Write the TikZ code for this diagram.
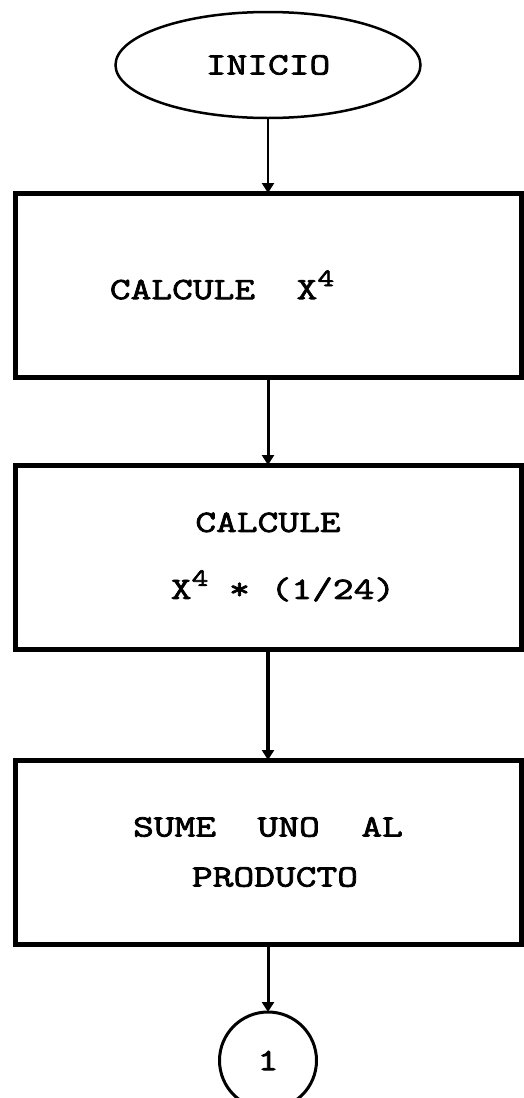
\documentclass[tikz,border=0pt]{standalone}
\usepackage{fontspec}
\setmonofont{Latin Modern Mono}[FakeStretch=1.3, FakeBold=2.5]
\usepackage{tikz}
\usetikzlibrary{shapes.geometric, arrows.meta, positioning}
\newcommand{\xcuarta}{X\raisebox{13pt}{\fontsize{25}{25}\selectfont 4}}

\begin{document}
\begin{tikzpicture}[
    x=1pt, y=1pt,
    every node/.style={font=\ttfamily\fontsize{31}{50}\selectfont, outer sep=0pt},
    terminal/.style={ellipse, draw, line width=2.5pt, minimum width=305pt, minimum height=106pt},
    block/.style={rectangle, draw, line width=5pt, minimum width=506pt, minimum height=184pt, align=center},
    connector/.style={circle, draw, line width=3pt, minimum size=97pt, inner sep=0pt},
    arrow/.style={-{Triangle[length=10pt, width=12pt]}, line width=3pt}
]
\useasboundingbox (0,0) rectangle (523,-1098);

\node[terminal] (inicio) at (268,-65) {INICIO};
\node[block, below=75pt of inicio] (potencia) {CALCULE~~\xcuarta\hspace{92pt}};
\node[block, below=88pt of potencia] (factor) {CALCULE\\[17pt]\hspace{30pt}\xcuarta{} * (1/24)};
\node[block, below=111pt of factor] (suma) {SUME~~UNO~~AL\\\hspace{14pt}PRODUCTO};
\node[connector, below=68pt of suma] (con1) {1};

\draw[arrow, line width=2.5pt] (inicio) -- (potencia);
\draw[arrow] (potencia) -- (factor);
\draw[arrow, line width=4pt] (factor) -- (suma);
\draw[arrow] (suma) -- (con1);

\end{tikzpicture}
\end{document}
